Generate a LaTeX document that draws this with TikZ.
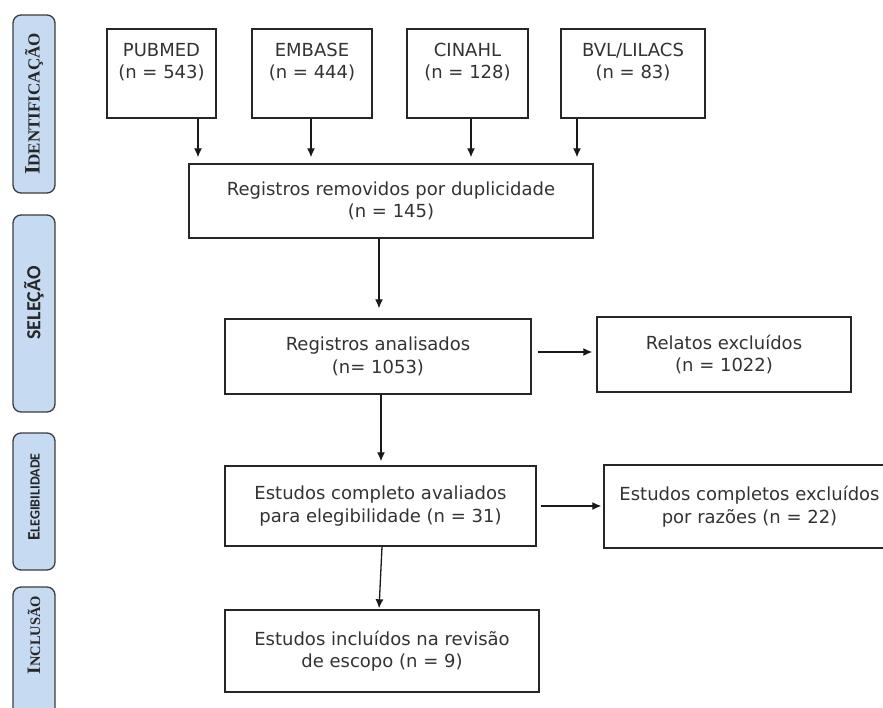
\documentclass[tikz,border=0pt]{standalone}
\usepackage{fontspec}
\setmainfont{DejaVu Sans}
\newfontfamily\labserif{Liberation Serif}
\newfontfamily\labsans{Carlito}
\usetikzlibrary{arrows.meta}
\definecolor{txt}{HTML}{333333}
\definecolor{bord}{HTML}{262626}
\definecolor{labfill}{HTML}{C6DAF1}
\begin{document}
\begin{tikzpicture}[x=1pt,y=-1pt,
  box/.style={draw=bord, line width=1.4pt, fill=white, text=txt,
    font=\fontsize{18}{22.5}\selectfont, align=center, inner sep=0pt},
  side/.style={draw=bord!90, line width=1.3pt, fill=labfill, rounded corners=8pt,
    minimum width=42pt, inner sep=0pt},
  sidetext/.style={rotate=90, text=black!85, inner sep=0pt},
  arr/.style={-{Latex[length=9pt,width=8pt]}, line width=1.3pt, draw=black!90}]
\useasboundingbox (0,0) rectangle (883,707);
\fill[white] (0,0) rectangle (883,707);

% side labels
\node[side, minimum height=178pt] (s1) at (34,104) {};
\node[sidetext] (t1) at (s1.center) {\labserif\bfseries\fontsize{22}{22}\selectfont I\fontsize{17}{17}\selectfont DENTIFICAÇÃO};
\node[side, minimum height=197pt] (s2) at (34,313.5) {};
\node[sidetext] (t2) at (34,303) {\labsans\bfseries\fontsize{20}{20}\selectfont SELEÇÃO};
\node[side, minimum height=137pt] (s3) at (34,501.5) {};
\node[sidetext] (t3) at (34,497) {\labsans\bfseries\fontsize{17.5}{17.5}\selectfont E\fontsize{14}{14}\selectfont LEGIBILIDADE};
\node[side, minimum height=143pt] (s4) at (34,658.5) {};
\node[sidetext] (t4) at (34,635) {\labserif\bfseries\fontsize{19}{19}\selectfont I\fontsize{14.5}{14.5}\selectfont NCLUSÃO};

% top sources
\node[box, minimum width=109pt, minimum height=89pt] (pub) at (161.5,73.5) {PUBMED\\(n = 543)\\[3pt]};
\node[box, minimum width=120pt, minimum height=89pt] (emb) at (312,73.5) {EMBASE\\(n = 444)\\[3pt]};
\node[box, minimum width=121pt, minimum height=89pt] (cin) at (467.5,73.5) {CINAHL\\(n = 128)\\[3pt]};
\node[box, minimum width=144pt, minimum height=89pt] (bvl) at (633,73.5) {BVL/LILACS\\(n = 83)\\[3pt]};

\node[box, minimum width=404pt, minimum height=74pt] (rem) at (391,201) {Registros removidos por duplicidade\\(n = 145)};
\node[box, minimum width=306pt, minimum height=75pt] (ana) at (378,356.5) {Registros analisados\\(n= 1053)};
\node[box, minimum width=254pt, minimum height=75pt] (rel) at (724,354.5) {Relatos excluídos\\(n = 1022)};
\node[box, minimum width=311pt, minimum height=80pt] (aval) at (380.5,506) {Estudos completo avaliados\\para elegibilidade (n = 31)};
\node[box, minimum width=291pt, minimum height=83pt] (exc) at (749.5,506.5) {Estudos completos excluídos\\por razões (n = 22)};
\node[box, minimum width=314pt, minimum height=82pt] (inc) at (382,651) {Estudos incluídos na revisão\\de escopo (n = 9)};

% arrows
\draw[arr, shorten >=6pt] ([xshift=36.5pt]pub.south) -- ([xshift=36.5pt]pub.south |- rem.north);
\draw[arr, shorten >=6pt] ([xshift=-1pt]emb.south) -- ([xshift=-1pt]emb.south |- rem.north);
\draw[arr, shorten >=6pt] ([xshift=3.5pt]cin.south) -- ([xshift=3.5pt]cin.south |- rem.north);
\draw[arr, shorten >=6pt] ([xshift=-56pt]bvl.south) -- ([xshift=-56pt]bvl.south |- rem.north);
\draw[arr, shorten >=10pt] ([xshift=-12pt]rem.south) -- ([xshift=-12pt]rem.south |- ana.north);
\draw[arr, shorten <=6pt, shorten >=4pt] ([yshift=4.5pt]ana.east) -- ([yshift=4.5pt]ana.east -| rel.west);
\draw[arr, shorten >=4pt] ([xshift=3pt]ana.south) -- ([xshift=3pt]ana.south |- aval.north);
\draw[arr, shorten <=4pt, shorten >=2pt] (aval.east) -- (aval.east -| exc.west);
\draw[arr, shorten >=1pt] ([xshift=1.5pt]aval.south) -- ([xshift=-3pt]inc.north);
\end{tikzpicture}
\end{document}
